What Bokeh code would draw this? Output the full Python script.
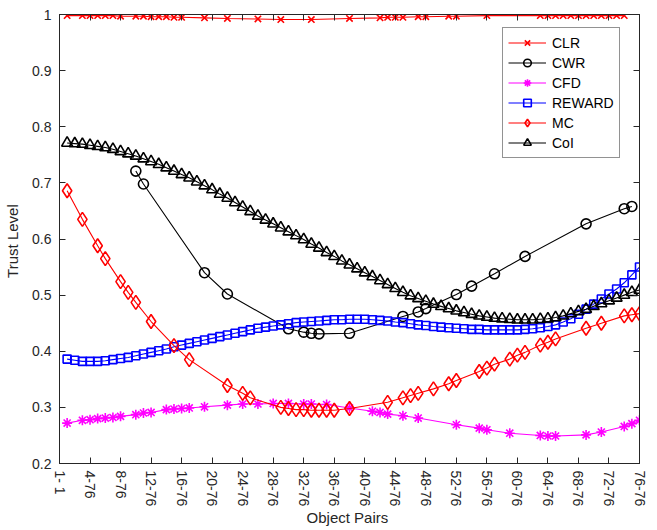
from bokeh.plotting import figure
from bokeh.models import Range1d, FixedTicker, LinearAxis, Legend, LegendItem
from bokeh.embed import file_html
from bokeh.resources import INLINE

# ---------------- data ----------------
x_tick_pos = [0, 4, 8, 12, 16, 20, 24, 28, 32, 36, 40, 44, 48, 52, 56, 60, 64, 68, 72, 76]
x_tick_labels = ["1- 1", "4-76", "8-76", "12-76", "16-76", "20-76", "24-76", "28-76", "32-76",
                 "36-76", "40-76", "44-76", "48-76", "52-76", "56-76", "60-76", "64-76",
                 "68-76", "72-76", "76-76"]
y_tick_pos = [0.2, 0.3, 0.4, 0.5, 0.6, 0.7, 0.8, 0.9, 1.0]

clr_x = [1, 3, 4, 5, 6, 7, 8, 10, 11, 12, 13, 14, 15, 16, 19, 22, 26, 29, 33, 38,
         42, 43, 44, 45, 47, 48, 51, 52, 56, 63, 64, 65, 66, 67, 68, 69, 70, 71, 72, 73, 74]
clr_y = [0.998, 0.998, 0.998, 0.998, 0.998, 0.998, 0.997, 0.997, 0.997, 0.996, 0.996, 0.996,
         0.995, 0.995, 0.994, 0.993, 0.992, 0.991, 0.991, 0.993, 0.994, 0.995, 0.995, 0.995,
         0.996, 0.996, 0.997, 0.997, 0.998, 0.998, 0.998, 0.998, 0.998, 0.998, 0.998, 0.998,
         0.998, 0.998, 0.998, 0.998, 0.998]

cwr_x = [10, 11, 19, 22, 30, 32, 33, 34, 38, 45, 47, 48, 52, 54, 57, 61, 69, 74, 75]
cwr_y = [0.721, 0.698, 0.540, 0.502, 0.440, 0.434, 0.432, 0.431, 0.432, 0.462, 0.470, 0.476,
         0.501, 0.516, 0.538, 0.569, 0.627, 0.654, 0.658]

cfd_x = [1, 3, 4, 5, 6, 7, 8, 10, 11, 12, 14, 15, 16, 17, 19, 22, 24, 26, 28, 30, 32, 33, 35,
         38, 41, 42, 43, 45, 47, 52, 55, 56, 59, 63, 64, 65, 69, 71, 74, 75, 76]
cfd_y = [0.272, 0.277, 0.278, 0.280, 0.281, 0.282, 0.284, 0.287, 0.290, 0.291, 0.296, 0.297,
         0.298, 0.299, 0.301, 0.304, 0.306, 0.306, 0.307, 0.307, 0.306, 0.306, 0.305,
         0.299, 0.293, 0.291, 0.288, 0.285, 0.281, 0.269, 0.263, 0.260, 0.254, 0.250, 0.249,
         0.249, 0.251, 0.256, 0.266, 0.271, 0.277]

reward_x = list(range(1, 77))
reward_y = [0.386, 0.384, 0.382, 0.382, 0.382, 0.383, 0.385, 0.387, 0.389, 0.392,
            0.395, 0.398, 0.401, 0.404, 0.408, 0.411, 0.414, 0.417, 0.420, 0.423,
            0.426, 0.429, 0.432, 0.435, 0.438, 0.441, 0.443, 0.445, 0.447, 0.449,
            0.451, 0.452, 0.453, 0.454, 0.455, 0.456, 0.456, 0.457, 0.457, 0.457,
            0.456, 0.455, 0.454, 0.452, 0.451, 0.449, 0.447, 0.446, 0.444, 0.443,
            0.442, 0.441, 0.440, 0.439, 0.439, 0.438, 0.438, 0.438, 0.438, 0.438,
            0.439, 0.440, 0.442, 0.444, 0.447, 0.452, 0.458, 0.466, 0.475, 0.484,
            0.493, 0.502, 0.511, 0.522, 0.536, 0.550]

mc_x = [1, 3, 5, 6, 8, 9, 10, 12, 15, 17, 22, 24, 25, 29, 30, 31, 32, 33, 34, 35, 36, 38,
        43, 45, 46, 47, 49, 51, 52, 55, 56, 57, 59, 60, 61, 63, 64, 65, 69, 71, 74, 75, 76]
mc_y = [0.686, 0.635, 0.588, 0.565, 0.524, 0.505, 0.487, 0.453, 0.410, 0.385, 0.339, 0.325,
        0.317, 0.300, 0.298, 0.296, 0.296, 0.295, 0.295, 0.295, 0.295, 0.298, 0.309, 0.317,
        0.321, 0.325, 0.333, 0.342, 0.348, 0.364, 0.370, 0.377, 0.386, 0.393, 0.398, 0.411,
        0.416, 0.422, 0.441, 0.450, 0.463, 0.465, 0.467]

coi_x = list(range(1, 77))
coi_y = [0.771, 0.770, 0.769, 0.767, 0.765, 0.763, 0.760, 0.756, 0.752, 0.748,
         0.743, 0.738, 0.733, 0.727, 0.721, 0.715, 0.709, 0.702, 0.695, 0.688,
         0.680, 0.673, 0.665, 0.657, 0.649, 0.641, 0.634, 0.627, 0.620, 0.613,
         0.606, 0.599, 0.591, 0.584, 0.576, 0.569, 0.561, 0.554, 0.547, 0.540,
         0.533, 0.526, 0.519, 0.512, 0.505, 0.499, 0.494, 0.489, 0.484, 0.480,
         0.476, 0.472, 0.469, 0.466, 0.463, 0.461, 0.459, 0.458, 0.457, 0.456,
         0.456, 0.456, 0.457, 0.458, 0.460, 0.463, 0.467, 0.471, 0.475, 0.480,
         0.485, 0.490, 0.495, 0.500, 0.505, 0.509]

series = [
    ("CLR", clr_x, clr_y, "#FF0000", "x", 9),
    ("CWR", cwr_x, cwr_y, "#000000", "circle", 10),
    ("CFD", cfd_x, cfd_y, "#FF00FF", "asterisk", 10),
    ("REWARD", reward_x, reward_y, "#0000FF", "square", 8),
    ("MC", mc_x, mc_y, "#FF0000", "diamond", 14),
    ("CoI", coi_x, coi_y, "#000000", "triangle", 11),
]

FONT = "Liberation Sans"
AX = "#262626"

p = figure(width=657, height=530, output_backend="svg", toolbar_location=None,
           x_range=Range1d(0, 76), y_range=Range1d(0.2, 1.0),
           min_border_left=59, min_border_right=18, min_border_top=14, min_border_bottom=67)
p.xgrid.visible = False
p.ygrid.visible = False
p.outline_line_color = AX
p.outline_line_width = 1
p.background_fill_color = "white"
p.border_fill_color = "white"

items = []
for name, xs, ys, col, mk, sz in series:
    r1 = p.line(xs, ys, line_color=col, line_width=1.1)
    r2 = p.scatter(xs, ys, marker=mk, size=sz, line_color=col, fill_color=None, line_width=1.6)
    items.append(LegendItem(label=name, renderers=[r1, r2]))

# axes
xa = p.xaxis[0]
xa.ticker = FixedTicker(ticks=x_tick_pos)
xa.major_label_overrides = {t: l for t, l in zip(x_tick_pos, x_tick_labels)}
xa.major_label_orientation = "vertical"
ya = p.yaxis[0]
ya.ticker = FixedTicker(ticks=y_tick_pos)
ya.major_label_overrides = {1.0: "1"}
for ax in (xa, ya):
    ax.major_tick_in = 6
    ax.major_tick_out = 0
    ax.minor_tick_line_color = None
    ax.axis_line_color = AX
    ax.major_tick_line_color = AX
    ax.major_label_text_color = AX
    ax.major_label_text_font = FONT
    ax.major_label_text_font_size = "14px"
    ax.major_label_standoff = 8
    ax.axis_label_text_font = FONT
    ax.axis_label_text_font_size = "15px"
    ax.axis_label_text_font_style = "normal"
    ax.axis_label_text_color = AX
xa.major_label_standoff = 7
xa.axis_label = "Object  Pairs"
xa.axis_label_standoff = 0
ya.axis_label = "Trust  Level"
ya.axis_label_standoff = 8

for loc in ("above", "right"):
    ticks = x_tick_pos if loc == "above" else y_tick_pos
    extra = LinearAxis(ticker=FixedTicker(ticks=ticks))
    extra.major_label_overrides = {t: "" for t in ticks}
    extra.major_label_text_color = None
    extra.major_label_text_font_size = "1px"
    extra.major_tick_in = 6
    extra.major_tick_out = 0
    extra.minor_tick_line_color = None
    extra.major_label_standoff = 0
    extra.axis_line_color = AX
    extra.major_tick_line_color = AX
    p.add_layout(extra, loc)

legend = Legend(items=items, location=(443, 305))
legend.label_text_font = FONT
legend.label_text_font_size = "14px"
legend.label_text_color = "#000000"
legend.glyph_width = 38
legend.glyph_height = 19
legend.label_height = 19
legend.label_standoff = 6
legend.spacing = 1
legend.padding = 5
legend.margin = 0
legend.border_line_color = AX
legend.border_line_width = 1
legend.background_fill_color = "white"
legend.background_fill_alpha = 1
p.add_layout(legend, "center")

open("out.html", "w").write(file_html(p, INLINE))
